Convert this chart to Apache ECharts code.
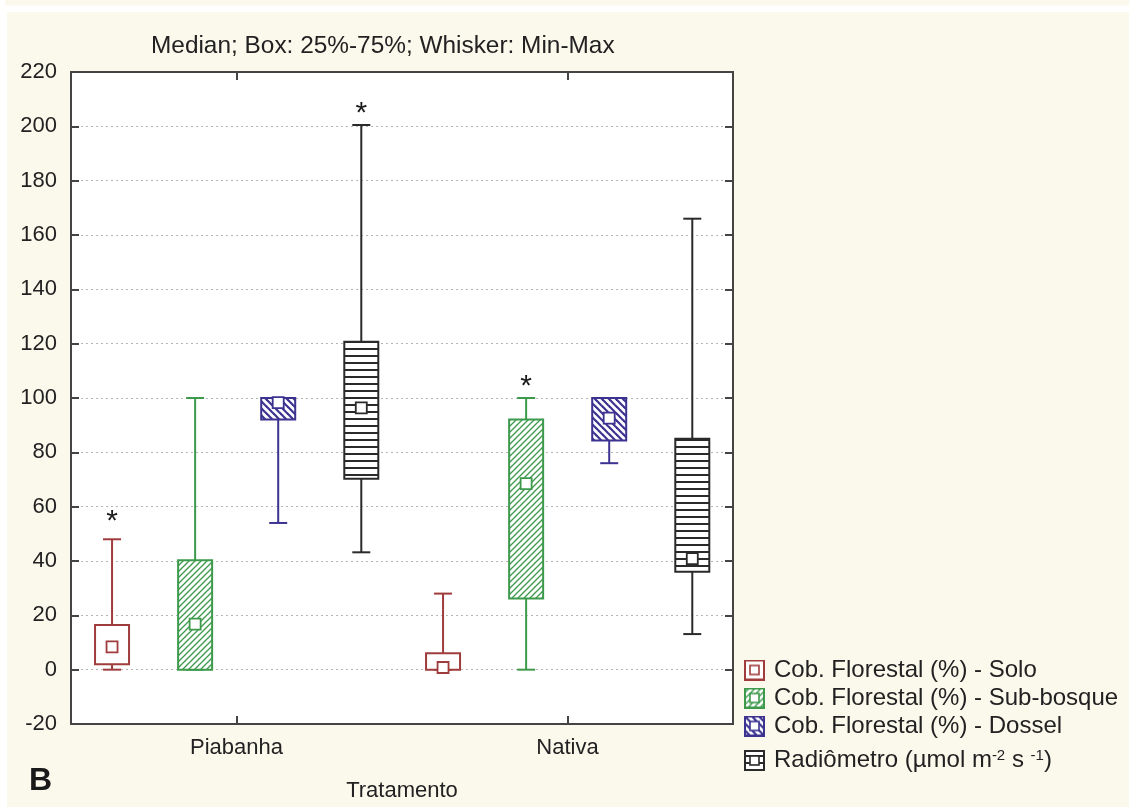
<!DOCTYPE html>
<html>
<head>
<meta charset="utf-8">
<script src="https://cdn.jsdelivr.net/npm/echarts@6/dist/echarts.min.js"></script>
<style>
  html, body { margin: 0; padding: 0; background: #ffffff; }
  #chart { width: 1129px; height: 807px; }
</style>
</head>
<body>
<div id="chart"></div>
<script>
// Treatments on the x axis
const categories = ['Piabanha', 'Nativa'];

// Each row: [treatment index, min, Q1 (25%), median, Q3 (75%), max]
const soloData      = [[0, 0, 2, 8.4, 16.4, 48], [1, 0, 0, 0.8, 6, 28]];
const subBosqueData = [[0, 0, 0, 16.8, 40.3, 100], [1, 0, 26.2, 68.5, 92.1, 100]];
const dosselData    = [[0, 54, 92.1, 98.3, 100, 100], [1, 76, 84.4, 92.6, 100, 100]];
const radioData     = [[0, 43.2, 70.3, 96.4, 120.7, 200.5], [1, 13.1, 36, 40.9, 85, 166]];

// Asterisk marks: [treatment index, group index, value]
const starMarks = [[0, 0, 56.6], [0, 3, 206.7], [1, 1, 106.2]];

// Y axis scale
const yMin = -20, yMax = 220, yStep = 20;

const seriesNames = [
  'Cob. Florestal (%) - Solo',
  'Cob. Florestal (%) - Sub-bosque',
  'Cob. Florestal (%) - Dossel',
  'Radiômetro (µmol m-2 s-1)'
];

// ---------- styling ----------
const FONT = "'Liberation Sans', Arial, sans-serif";
const colors = ['#a03c3c', '#3d9a4c', '#3c3290', '#2a2a2a'];
const groupOffset = [-0.376, -0.125, 0.126, 0.377]; // fraction of category band
const BOX_W = 34, CAP_W = 18, MED = 11;

function makeTile(kind, color) {
  const c = document.createElement('canvas');
  const s = kind === 'fwd' ? 6 : 7;
  c.width = s; c.height = s;
  const g = c.getContext('2d');
  g.fillStyle = '#ffffff';
  g.fillRect(0, 0, s, s);
  g.strokeStyle = color;
  if (kind === 'fwd') {
    g.lineWidth = 1.3;
    for (let k = -1; k <= 1; k++) {
      g.beginPath(); g.moveTo(k * s - 1, s + 1); g.lineTo(k * s + s + 1, -1); g.stroke();
    }
  } else if (kind === 'back') {
    g.lineWidth = 2.2;
    for (let k = -1; k <= 1; k++) {
      g.beginPath(); g.moveTo(k * s - 1, -1); g.lineTo(k * s + s + 1, s + 1); g.stroke();
    }
  } else if (kind === 'horiz') {
    g.fillStyle = color;
    g.fillRect(0, 5, s, 2);
  }
  return c;
}

const tiles = [
  null,
  makeTile('fwd', colors[1]),
  makeTile('back', colors[2]),
  makeTile('horiz', colors[3])
];

function fillFor(i) {
  return tiles[i] ? { image: tiles[i], repeat: 'repeat' } : '#ffffff';
}

// Legend icons drawn on a small canvas
function legendIcon(i) {
  const c = document.createElement('canvas');
  c.width = 21; c.height = 21;
  const g = c.getContext('2d');
  g.fillStyle = '#ffffff';
  g.fillRect(0, 0, 21, 21);
  if (tiles[i]) {
    g.fillStyle = g.createPattern(tiles[i], 'repeat');
    g.fillRect(1, 1, 19, 19);
  }
  g.strokeStyle = colors[i];
  g.lineWidth = 2;
  g.strokeRect(1, 1, 19, 19);
  g.fillStyle = '#ffffff';
  g.fillRect(6, 6, 9, 9);
  g.lineWidth = 1.6;
  g.strokeRect(6, 6, 9, 9);
  return 'image://' + c.toDataURL();
}

function boxRenderer(groupIdx) {
  return function (params, api) {
    const cat = api.value(0);
    const band = api.size([1, 0])[0];
    const cx = api.coord([cat, 0])[0] + groupOffset[groupIdx] * band;
    const y = v => api.coord([cat, v])[1];
    const yMinP = y(api.value(1)), yQ1 = y(api.value(2)), yMed = y(api.value(3));
    const yQ3 = y(api.value(4)), yMaxP = y(api.value(5));
    const col = colors[groupIdx];
    const line = { stroke: col, lineWidth: 2, fill: null };
    const children = [
      { type: 'line', shape: { x1: cx, y1: yQ3, x2: cx, y2: yMaxP }, style: line },
      { type: 'line', shape: { x1: cx, y1: yQ1, x2: cx, y2: yMinP }, style: line },
      { type: 'line', shape: { x1: cx - CAP_W / 2, y1: yMaxP, x2: cx + CAP_W / 2, y2: yMaxP }, style: line },
      { type: 'line', shape: { x1: cx - CAP_W / 2, y1: yMinP, x2: cx + CAP_W / 2, y2: yMinP }, style: line },
      { type: 'rect', shape: { x: cx - BOX_W / 2, y: yQ3, width: BOX_W, height: yQ1 - yQ3 },
        style: { fill: fillFor(groupIdx), stroke: col, lineWidth: 2 } },
      { type: 'rect', shape: { x: cx - MED / 2, y: yMed - MED / 2, width: MED, height: MED },
        style: { fill: '#ffffff', stroke: col, lineWidth: 1.8 } }
    ];
    return { type: 'group', children };
  };
}

const boxSeries = [soloData, subBosqueData, dosselData, radioData].map((d, i) => ({
  name: seriesNames[i],
  type: 'custom',
  renderItem: boxRenderer(i),
  data: d,
  encode: { x: 0, y: [1, 2, 3, 4, 5] },
  itemStyle: { color: colors[i] },
  z: 3
}));

const starSeries = {
  name: 'stars',
  type: 'custom',
  data: starMarks,
  encode: { x: 0, y: 2 },
  renderItem: function (params, api) {
    const cat = api.value(0);
    const band = api.size([1, 0])[0];
    const cx = api.coord([cat, 0])[0] + groupOffset[api.value(1)] * band;
    const cy = api.coord([cat, api.value(2)])[1];
    return {
      type: 'text',
      style: {
        text: '*', x: cx, y: cy + 6, align: 'center', verticalAlign: 'middle',
        font: "30px " + FONT, fill: '#1a1a1a'
      }
    };
  },
  z: 4
};

const chart = echarts.init(document.getElementById('chart'), null, { renderer: 'canvas' });

const axisLine = { show: true, onZero: false, lineStyle: { color: '#444', width: 2 } };
const tickIn = { show: true, inside: true, length: 8, lineStyle: { color: '#444', width: 2 } };

const legendText = {
  fontFamily: FONT, fontSize: 24, color: '#222', padding: [0, 0, 0, 4],
  rich: {
    n: { fontFamily: FONT, fontSize: 24, color: '#222' },
    s: { fontFamily: FONT, fontSize: 15, color: '#222', verticalAlign: 'top', padding: [0, 0, 10, 0] }
  }
};
const legendCommon = {
  orient: 'vertical', left: 739,
  itemWidth: 21, itemHeight: 21, itemGap: 4,
  textStyle: legendText, selectedMode: false,
  formatter: function (name) {
    if (name === seriesNames[3]) return '{n|Radiômetro (µmol m}{s|-2}{n| s }{s|-1}{n|)}';
    return name;
  }
};

chart.setOption({
  animation: false,
  backgroundColor: '#ffffff',
  graphic: [
    { type: 'rect', shape: { x: 5, y: 0, width: 1124, height: 5.5 }, style: { fill: '#fbf8ec' }, z: -10 },
    { type: 'rect', shape: { x: 7, y: 12, width: 1122, height: 795 }, style: { fill: '#fbf8ec' }, z: -10 },
    { type: 'text', left: 29, top: 765,
      style: { text: 'B', font: "bold 32px 'Liberation Sans Narrow', " + FONT, fill: '#1a1a1a' } }
  ],
  title: {
    text: 'Median; Box: 25%-75%; Whisker: Min-Max',
    left: 146, top: 29,
    textStyle: { fontFamily: FONT, fontSize: 24.4, fontWeight: 'normal', color: '#222' }
  },
  legend: [
    Object.assign({}, legendCommon, {
      top: 653,
      data: seriesNames.slice(0, 3).map((n, i) => ({ name: n, icon: legendIcon(i) }))
    }),
    Object.assign({}, legendCommon, {
      top: 743,
      data: [{ name: seriesNames[3], icon: legendIcon(3) }]
    })
  ],
  grid: {
    left: 71, right: 396, top: 72, bottom: 82,
    show: true, backgroundColor: '#ffffff', borderColor: '#444', borderWidth: 2
  },
  xAxis: [
    {
      type: 'category', data: categories, position: 'bottom',
      axisLine, axisTick: Object.assign({ alignWithLabel: true }, tickIn),
      axisLabel: { fontFamily: FONT, fontSize: 22, color: '#222', margin: 13 },
      name: 'Tratamento', nameLocation: 'middle', nameGap: 56,
      nameTextStyle: { fontFamily: FONT, fontSize: 22, color: '#222' }
    },
    {
      type: 'category', data: categories, position: 'top',
      axisLine, axisTick: Object.assign({ alignWithLabel: true }, tickIn),
      axisLabel: { show: false }
    }
  ],
  yAxis: [
    {
      type: 'value', min: yMin, max: yMax, interval: yStep, position: 'left',
      axisLine, axisTick: tickIn,
      axisLabel: { fontFamily: FONT, fontSize: 22, color: '#222', margin: 14 },
      splitLine: { show: true, lineStyle: { color: '#b5b5b5', width: 1.2, type: [2, 3] } }
    },
    {
      type: 'value', min: yMin, max: yMax, interval: yStep, position: 'right',
      axisLine, axisTick: tickIn, axisLabel: { show: false }, splitLine: { show: false }
    }
  ],
  series: boxSeries.concat([starSeries])
});
</script>
</body>
</html>
